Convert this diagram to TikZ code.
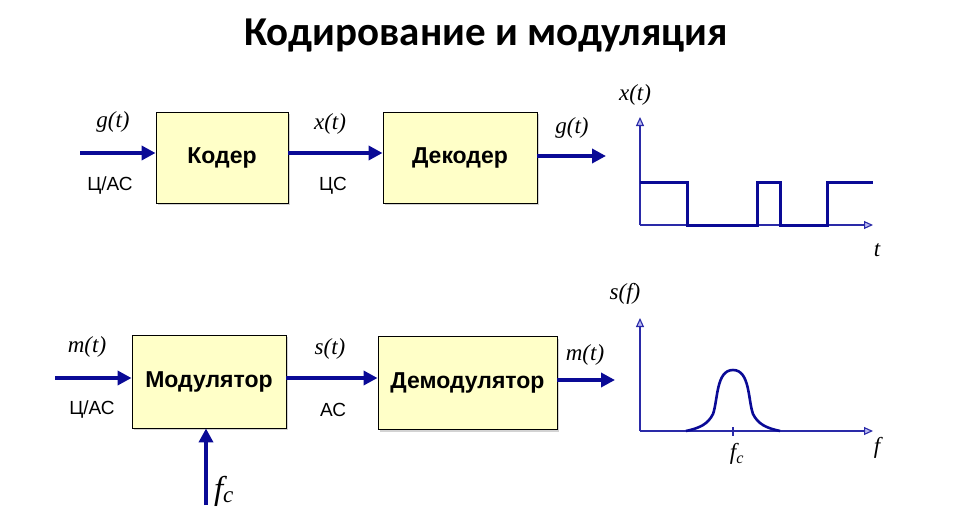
\documentclass[tikz,border=0pt]{standalone}
\usepackage{fontspec}
\setmainfont{Liberation Sans}
\newfontfamily\titlefont{Carlito}
\newfontfamily\tmsfont{Liberation Serif}
\usetikzlibrary{arrows.meta,shadows}
\definecolor{sigblue}{HTML}{0A0A96}
\definecolor{axblue}{HTML}{2A2AA8}
\definecolor{axfill}{HTML}{BCBCF2}
\definecolor{boxfill}{HTML}{FFFFC8}
\begin{document}
\begin{tikzpicture}[x=1pt,y=-1pt,
  block/.style={draw,fill=boxfill,line width=0.9pt,inner sep=0pt,
    drop shadow={shadow xshift=2pt,shadow yshift=-2pt,opacity=0.35},
    font=\fontsize{23}{26}\selectfont\bfseries},
  sig/.style={draw=sigblue,line width=4pt,-{Triangle[length=14pt,width=14pt]}},
  axis/.style={draw=axblue,line width=1.1pt,-{Triangle[length=9pt,width=8pt,fill=axfill]}},
  wave/.style={draw=sigblue,line width=3pt},
  var/.style={font=\tmsfont\itshape\fontsize{23}{25}\selectfont,inner sep=0pt},
  kind/.style={font=\fontsize{19}{22}\selectfont,inner sep=0pt}]
  \useasboundingbox (0,0) rectangle (967,519);
  \node[font=\titlefont\bfseries\fontsize{41}{48}\selectfont] (title) at (486,36) {Кодирование и модуляция};
  \node[block,minimum width=132pt,minimum height=91pt] (coder) at (222,157.5) {Кодер};
  \node[block,minimum width=154pt,minimum height=91pt] (decoder) at (460,157.5) {Декодер};
  \node[block,minimum width=154pt,minimum height=93pt] (mod) at (209,381.5) {Модулятор};
  \node[block,minimum width=179pt,minimum height=93pt] (demod) at (467.5,383) {Демодулятор};
  \coordinate (gin) at (80,153);
  \coordinate (gout) at (606,156);
  \coordinate (min) at (55,378);
  \coordinate (mout) at (615,380);
  \coordinate (fcin) at (206,505);
  \draw[sig] (gin) -- (gin -| coder.west);
  \draw[sig] (coder.east |- gin) -- (gin -| decoder.west);
  \draw[sig] (decoder.east |- gout) -- (gout);
  \draw[sig] (min) -- (min -| mod.west);
  \draw[sig] (mod.east |- min) -- (min -| demod.west);
  \draw[sig] (demod.east |- mout) -- (mout);
  \draw[sig] (fcin) -- (fcin |- mod.south);
  \node[var] (g1) at (113,122) {g(t)};
  \node[kind] (k1) at (110,186) {Ц/АС};
  \node[var] (x1) at (330,124) {x(t)};
  \node[kind] (k2) at (333,186) {ЦС};
  \node[var] (g2) at (572,128) {g(t)};
  \node[var] (m1) at (87,347) {m(t)};
  \node[kind] (k3) at (92,410) {Ц/АС};
  \node[var] (s1) at (330,349) {s(t)};
  \node[kind] (k4) at (333,410) {АС};
  \node[var] (m2) at (585,355) {m(t)};
  \node[var,font=\tmsfont\itshape\fontsize{33}{36}\selectfont] (fc1) at (224,491) {f\textsubscript{c}};
  \coordinate (o1) at (640,225);
  \coordinate (o2) at (640,431);
  \draw[axis] (o1) -- (640,117);
  \draw[axis] (o1) -- (873,225);
  \draw[wave] (640,182) -- (687,182) -- (687,225) -- (757,225) -- (757,182) -- (780,182)
    -- (780,225) -- (827,225) -- (827,182) -- (873,182);
  \node[var] (xt) at (635,95) {x(t)};
  \node[var] (t) at (877,250) {t};
  \draw[axis] (o2) -- (640,318);
  \draw[axis] (o2) -- (873,431);
  \draw[wave,line width=2.6pt] (686,431) .. controls (700,428) and (708,424) .. (713,414)
    .. controls (718,400) and (716,370) .. (733,370) .. controls (750,370) and (748,400) .. (753,414)
    .. controls (758,424) and (766,428) .. (780,431);
  \draw[axblue,line width=1.1pt] (733,427) -- (733,436);
  \node[var] (fc2) at (737,454) {f\textsubscript{c}};
  \node[var] (sf) at (625,294) {s(f)};
  \node[var] (f) at (877,448) {f};
\end{tikzpicture}
\end{document}
